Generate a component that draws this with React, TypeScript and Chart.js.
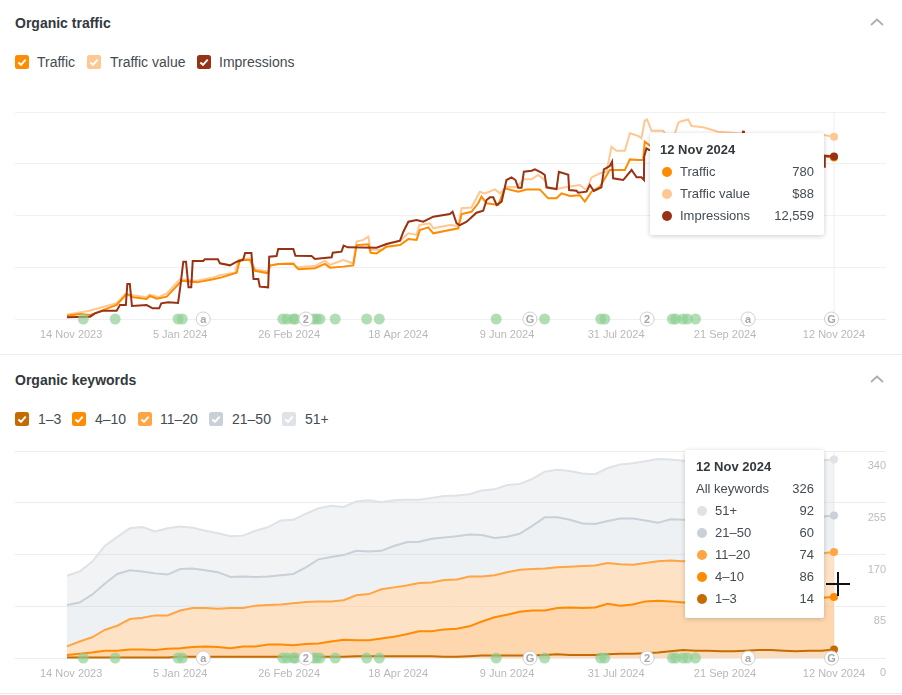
import React, { useEffect, useRef } from 'react';
import Chart from 'chart.js/auto';

// x values are days since 12 Nov 2023
const tickDays = [2, 54, 106, 158, 210, 262, 314, 366];
const tickLabels = ['14 Nov 2023', '5 Jan 2024', '26 Feb 2024', '18 Apr 2024', '9 Jun 2024', '31 Jul 2024', '21 Sep 2024', '12 Nov 2024'];

const updateDays = [7.8, 23, 53, 55, 103, 105, 108, 109, 117.5, 119, 120.7, 128, 143, 149, 204.8, 227.9, 254.7, 256.6, 288.9, 290.5, 294, 296, 299.9];
const flagDays = [65, 114, 220.9, 276.8, 325, 364.8];
const flagLetters = ['a', '2', 'G', '2', 'a', 'G'];

// [day, value]
const trafficSeries: [number, number][] = [
  [0, 16], [6.2, 24], [11, 19], [23.7, 68], [28.5, 121], [31.6, 105], [38, 97], [39.6, 111], [42.8, 98], [47.6, 108],
  [54.7, 185], [61.9, 177], [69.8, 192], [73.8, 201], [81, 224], [82.5, 285], [87.3, 285], [89.7, 233], [96, 221], [96.9, 258],
  [100.8, 266], [108, 266], [110.4, 240], [118.3, 245], [123.1, 266], [125.5, 248], [131.8, 253], [136.6, 259], [138.2, 357], [143.8, 361],
  [144.9, 320], [147.7, 317], [152.5, 349], [158.9, 357], [162.9, 386], [166.8, 382], [168.4, 430], [172.4, 443], [174.8, 414], [182.7, 430],
  [186.7, 438], [188.3, 507], [193, 518], [196.2, 559], [197.8, 591], [200.2, 559], [205.8, 551], [208.9, 631], [215.3, 615], [219.3, 626],
  [225.6, 626], [229.6, 583], [233.6, 583], [236, 607], [240, 594], [244.7, 598], [247.1, 567], [250.3, 615], [254.3, 639], [259, 720],
  [266.2, 720], [268.6, 771], [272.6, 768], [274.9, 768], [275.7, 857], [277.8, 840], [285, 820], [300, 850], [320, 830], [340, 800], [355, 790], [366, 780],
];

const trafficValueSeries: [number, number][] = [
  [0, 2.1], [10.2, 3.9], [23.7, 7.6], [27.7, 12.1], [38, 10.5], [39.3, 11.8], [43.6, 10.5], [47.6, 12.4], [53.9, 19.2], [61.9, 18.5],
  [69.8, 20.1], [73, 21.1], [80.2, 22.4], [81.7, 28.5], [87.3, 29.3], [89.7, 24], [96, 22.9], [96.5, 25.8], [101.6, 26.6], [108, 27.2],
  [109.6, 25], [118.3, 25.6], [123.1, 28.2], [125.5, 26.1], [131.8, 28.5], [136.6, 26.9], [138.2, 37.4], [141.4, 38.2], [143.8, 39.8], [144.9, 33.3],
  [150.9, 33.6], [152.5, 36.2], [158.9, 37.8], [162.9, 41.4], [166.8, 40.6], [168.1, 45.4], [173.2, 46.2], [174.8, 43.8], [182.7, 45.4], [186.7, 44.9],
  [188.3, 53.5], [193, 53.9], [197, 61.5], [199.4, 60.7], [204.2, 62.6], [206.6, 60.7], [209.7, 63.9], [214.5, 63.6], [218, 67.5], [221.7, 67.5],
  [224.8, 69.6], [228, 67.1], [229.6, 63.1], [233.6, 62.8], [239.2, 63.9], [244.7, 64.7], [247.9, 62.3], [250.3, 68.4], [254.3, 70.4], [257.5, 71.2],
  [259.8, 83.2], [262.2, 81.3], [266.2, 81.3], [268.6, 89.7], [272.6, 88.4], [274.1, 87.3], [275.7, 95.8], [276.8, 96.4], [278.9, 91], [284.5, 91],
  [286.9, 87.3], [289, 86], [291.6, 94.5], [292.4, 95.3], [296.4, 96.4], [298, 93.2], [303.6, 92.6], [310.7, 90.5], [330, 89], [350, 89], [361.1, 88.9], [366, 88],
];

const impressionsSeries: [number, number][] = [
  [0, 129], [11, 180], [13.4, 438], [17.3, 644], [23.7, 644], [25.3, 1082], [28.1, 1082], [28.8, 2705], [30, 2705], [31, 1005],
  [38, 1082], [40.9, 824], [44, 824], [45, 1211], [48.3, 1288], [53, 1236], [54, 2396], [55.5, 4431], [56.8, 4431], [58, 2447],
  [59.3, 2447], [60, 4482], [65, 4482], [65.8, 4611], [72, 4611], [73, 4302], [77.8, 4147], [81, 4431], [84, 4560], [85, 5100],
  [88, 5100], [89, 3091], [91.3, 3091], [92, 2499], [96, 2447], [96.5, 4817], [100, 4869], [100.8, 5410], [108, 5410], [109, 4894],
  [116.7, 4869], [118.3, 4637], [121.5, 4688], [126.3, 4766], [126.8, 5126], [131, 5204], [132, 5667], [134, 5538], [147.7, 5513], [152.5, 5796],
  [158.9, 6054], [160.5, 6749], [162.9, 7522], [166.8, 7651], [170, 7522], [174.8, 7908], [182.7, 8114], [184, 8295], [185.9, 7393], [187.5, 7264],
  [190.7, 7522], [195.4, 8217], [198.6, 8372], [200.2, 9196], [201.8, 9402], [203.4, 9402], [205, 8810], [207.4, 9068], [209.7, 10742], [212.1, 10948],
  [214, 10742], [215.3, 10150], [216.9, 10150], [218, 11386], [221.7, 11463], [223.3, 11566], [226.4, 11309], [228, 11128], [228.8, 10175], [233.6, 10046],
  [234.7, 11386], [239.2, 11154], [239.6, 9969], [243.1, 9918], [243.9, 9763], [247.9, 9840], [249.5, 10355], [251.4, 9892], [255, 10175], [256.2, 11566],
  [259, 11824], [260.1, 12159], [260.6, 10871], [265.4, 10742], [269.4, 11515], [271.8, 10948], [274.1, 10948], [275.3, 10742], [275.4, 12545], [276.5, 13189],
  [277.8, 13060], [285, 13100], [300, 13300], [315, 13400], [322, 13500], [322.6, 14554], [323, 13500], [340, 13200], [355, 12800], [361.4, 11772], [361.6, 12622], [366, 12559],
];

const keywordDays = [
  0, 6, 12, 18, 24, 30, 36, 42, 48, 54, 60, 66, 72, 78, 84, 90, 96, 102, 108, 114, 120, 126, 132, 138, 144, 150, 156, 162, 168, 174, 180,
  186, 192, 198, 204, 210, 216, 222, 228, 234, 240, 246, 252, 258, 264, 270, 276, 282, 288, 294, 300, 306, 312, 318, 324, 330, 336, 342, 348, 354, 360, 366,
];
const keywords1to3 = [
  1, 1, 1, 1, 1, 1, 1, 1, 1, 2, 2, 2, 2, 2, 2, 2, 2, 2, 2, 2, 2, 2, 2, 3, 3, 3, 3, 3, 3, 3, 2,
  2, 3, 4, 4, 4, 4, 4, 5, 6, 5, 5, 5, 6, 7, 7, 8, 9, 11, 13, 12, 12, 11, 11, 12, 13, 13, 12, 11, 12, 12, 14,
];
const keywords4to10 = [
  4, 6, 8, 11, 11, 13, 13, 12, 14, 14, 16, 17, 16, 14, 17, 17, 20, 20, 19, 21, 22, 25, 28, 26, 26, 29, 32, 36, 41, 41, 45,
  46, 49, 56, 63, 67, 72, 74, 73, 76, 78, 77, 78, 83, 79, 81, 85, 85, 82, 78, 79, 80, 81, 82, 82, 82, 82, 84, 86, 86, 87, 86,
];
const keywords11to20 = [
  14, 20, 25, 34, 41, 50, 52, 57, 55, 62, 64, 63, 63, 66, 63, 67, 65, 66, 69, 69, 69, 66, 65, 74, 76, 81, 81, 80, 79, 80, 81,
  81, 82, 74, 69, 70, 69, 68, 69, 67, 67, 69, 69, 67, 68, 65, 63, 65, 67, 68, 69, 69, 70, 70, 70, 70, 71, 72, 72, 73, 73, 74,
];
const keywords21to50 = [
  68, 64, 70, 76, 85, 80, 76, 69, 67, 68, 65, 62, 60, 51, 52, 47, 47, 48, 48, 57, 69, 73, 74, 73, 70, 63, 68, 71, 68, 72, 70,
  71, 69, 68, 61, 58, 59, 71, 84, 82, 77, 70, 68, 69, 75, 76, 70, 63, 68, 68, 67, 67, 66, 66, 65, 65, 64, 63, 62, 61, 60, 60,
];
const keywords51plus = [
  48, 51, 54, 62, 61, 69, 73, 69, 76, 70, 67, 65, 64, 67, 67, 76, 81, 90, 89, 88, 84, 84, 79, 81, 84, 80, 75, 70, 69, 67, 68,
  67, 66, 73, 80, 85, 82, 77, 75, 78, 80, 82, 82, 87, 89, 91, 97, 105, 98, 97, 97, 95, 95, 94, 94, 93, 94, 93, 93, 93, 93, 92,
];

const FONT = '"Liberation Sans", Arial, sans-serif';
const LAST_DAY = 366;
const X_MIN = -24.8;
const X_MAX = 390.8;

const COLORS = {
  traffic: '#ff8b00',
  trafficValue: '#ffc792',
  impressions: '#983214',
  k1: '#c46c00',
  k4: '#ff8b00',
  k11: '#ffa544',
  k21: '#c9d0d8',
  k51: '#dfe2e7',
};

const pairs = (series: [number, number][]) => series.map(([x, y]) => ({ x, y }));
const zip = (days: number[], values: number[]) => days.map((x, i) => ({ x, y: values[i] }));

// big dot on the hovered day only
const endDot = (ctx: any) => (ctx.dataIndex === ctx.dataset.data.length - 1 ? 4 : 0);

const lineDataset = (label: string, data: any[], color: string, yAxisID: string, extra: any = {}) => ({
  label,
  data,
  yAxisID,
  borderColor: color,
  backgroundColor: color,
  borderWidth: 2,
  tension: 0,
  pointRadius: endDot,
  pointBackgroundColor: color,
  pointBorderWidth: 0,
  clip: false,
  ...extra,
});

const eventDatasets = (yAxisID: string) => [
  {
    label: 'updates',
    data: updateDays.map((x) => ({ x, y: 0 })),
    yAxisID,
    showLine: false,
    pointRadius: 5.5,
    pointBackgroundColor: 'rgba(142, 207, 147, 0.68)',
    pointBorderWidth: 0,
    clip: false,
    order: -1,
  },
  {
    label: 'flags',
    data: flagDays.map((x) => ({ x, y: 0 })),
    yAxisID,
    showLine: false,
    pointRadius: 7,
    pointBackgroundColor: '#ffffff',
    pointBorderColor: '#cfcfcf',
    pointBorderWidth: 1,
    clip: false,
    order: -2,
  },
];

// hover line and the letters inside the flag circles
const decorations = {
  id: 'decorations',
  beforeDatasetsDraw(chart: any) {
    const { ctx, chartArea, scales } = chart;
    const x = scales.x.getPixelForValue(LAST_DAY);
    ctx.save();
    ctx.strokeStyle = '#eeeeee';
    ctx.lineWidth = 1;
    ctx.beginPath();
    ctx.moveTo(x, chartArea.top);
    ctx.lineTo(x, chartArea.bottom);
    ctx.stroke();
    ctx.restore();
  },
  afterDatasetsDraw(chart: any) {
    const { ctx } = chart;
    const index = chart.data.datasets.findIndex((d: any) => d.label === 'flags');
    const meta = chart.getDatasetMeta(index);
    ctx.save();
    ctx.fillStyle = '#a8a8a8';
    ctx.font = `bold 11px ${FONT}`;
    ctx.textAlign = 'center';
    ctx.textBaseline = 'middle';
    meta.data.forEach((pt: any, i: number) => ctx.fillText(flagLetters[i], pt.x, pt.y + 0.5));
    ctx.restore();
  },
};

const xAxis = {
  type: 'linear',
  min: X_MIN,
  max: X_MAX,
  afterBuildTicks: (scale: any) => {
    scale.ticks = tickDays.map((value) => ({ value }));
  },
  afterFit: (scale: any) => {
    scale.height = 30;
  },
  grid: { display: false },
  border: { display: false },
  ticks: {
    autoSkip: false,
    maxRotation: 0,
    padding: 1,
    color: '#b8b8b8',
    font: { family: FONT, size: 11 },
    callback: (value: number) => tickLabels[tickDays.indexOf(value)],
  },
};

const hiddenAxis = (max: number) => ({ display: false, min: 0, max });

const baseOptions = {
  responsive: false,
  animation: false,
  events: [],
  layout: { padding: 0, autoPadding: false },
  plugins: { legend: { display: false }, tooltip: { enabled: false } },
};

const TrafficChart: React.FC = () => {
  const canvasRef = useRef<HTMLCanvasElement>(null);
  useEffect(() => {
    if (!canvasRef.current) return;
    const chart = new Chart(canvasRef.current, {
      type: 'line',
      data: {
        datasets: [
          lineDataset('Impressions', pairs(impressionsSeries), COLORS.impressions, 'yImpressions'),
          lineDataset('Traffic', pairs(trafficSeries), COLORS.traffic, 'yTraffic'),
          lineDataset('Traffic value', pairs(trafficValueSeries), COLORS.trafficValue, 'yValue'),
          ...eventDatasets('yTraffic'),
        ],
      },
      options: {
        ...baseOptions,
        scales: {
          x: xAxis,
          yTraffic: {
            min: 0,
            max: 1000,
            afterFit: (scale: any) => {
              scale.width = 0;
            },
            border: { display: false },
            grid: { color: '#f0f0f0', drawTicks: false },
            ticks: { display: false, stepSize: 250 },
          },
          yValue: hiddenAxis(100),
          yImpressions: hiddenAxis(16000),
        },
      },
      plugins: [decorations],
    } as any);
    return () => chart.destroy();
  }, []);
  return <canvas ref={canvasRef} width={871} height={237} style={{ position: 'absolute', left: 15, top: 112 }} />;
};

const KeywordsChart: React.FC = () => {
  const canvasRef = useRef<HTMLCanvasElement>(null);
  useEffect(() => {
    if (!canvasRef.current) return;
    const chart = new Chart(canvasRef.current, {
      type: 'line',
      data: {
        datasets: [
          lineDataset('1–3', zip(keywordDays, keywords1to3), COLORS.k1, 'y', { fill: 'origin', backgroundColor: 'rgba(240, 170, 100, 0.4)' }),
          lineDataset('4–10', zip(keywordDays, keywords4to10), COLORS.k4, 'y', { fill: '-1', backgroundColor: 'rgba(253, 190, 125, 0.62)' }),
          lineDataset('11–20', zip(keywordDays, keywords11to20), COLORS.k11, 'y', { fill: '-1', backgroundColor: 'rgba(253, 205, 155, 0.58)' }),
          lineDataset('21–50', zip(keywordDays, keywords21to50), COLORS.k21, 'y', { fill: '-1', backgroundColor: 'rgba(205, 215, 225, 0.36)' }),
          lineDataset('51+', zip(keywordDays, keywords51plus), COLORS.k51, 'y', { fill: '-1', backgroundColor: 'rgba(215, 222, 228, 0.36)' }),
          ...eventDatasets('yEvents'),
        ],
      },
      options: {
        ...baseOptions,
        scales: {
          x: xAxis,
          y: {
            position: 'right',
            stacked: true,
            min: 0,
            max: 340,
            afterFit: (scale: any) => {
              scale.paddingTop = 0;
              scale.paddingBottom = 0;
            },
            border: { display: false },
            grid: { color: '#ececec', drawTicks: false },
            ticks: {
              stepSize: 85,
              mirror: true,
              padding: 0,
              labelOffset: 15,
              color: '#bcbcbc',
              font: { family: FONT, size: 11 },
            },
          },
          yEvents: hiddenAxis(1),
        },
      },
      plugins: [decorations],
    } as any);
    return () => chart.destroy();
  }, []);
  return <canvas ref={canvasRef} width={871} height={237} style={{ position: 'absolute', left: 15, top: 451 }} />;
};

const Check: React.FC<{ x: number; y: number; color: string }> = ({ x, y, color }) => (
  <svg width={14} height={14} style={{ position: 'absolute', left: x, top: y }}>
    <rect width={14} height={14} rx={2.5} fill={color} />
    <polyline points="3.4,7.4 6,9.8 10.7,4.6" fill="none" stroke="#fff" strokeWidth={2} />
  </svg>
);

const Text: React.FC<{ x: number; y: number; size?: number; bold?: boolean; color?: string; right?: boolean; children: React.ReactNode }> = ({
  x,
  y,
  size = 14,
  bold,
  color = '#444b52',
  right,
  children,
}) => (
  <div
    style={{
      position: 'absolute',
      [right ? 'right' : 'left']: right ? 902 - x : x,
      top: y - 10,
      height: 20,
      lineHeight: '20px',
      fontFamily: FONT,
      fontSize: size,
      fontWeight: bold ? 700 : 400,
      color,
      whiteSpace: 'nowrap',
    }}
  >
    {children}
  </div>
);

const Chevron: React.FC<{ y: number }> = ({ y }) => (
  <svg width={14} height={8} style={{ position: 'absolute', left: 870, top: y }}>
    <polyline points="1,7 7,1.5 13,7" fill="none" stroke="#a9aeb3" strokeWidth={1.7} />
  </svg>
);

const Dot: React.FC<{ x: number; y: number; color: string }> = ({ x, y, color }) => (
  <div style={{ position: 'absolute', left: x - 5, top: y - 5, width: 10, height: 10, borderRadius: 5, background: color }} />
);

const Box: React.FC<{ left: number; top: number; width: number; height: number }> = (p) => (
  <div
    style={{
      position: 'absolute',
      ...p,
      background: '#fff',
      borderRadius: 2,
      boxShadow: '0 1px 5px rgba(0, 0, 0, 0.2)',
    }}
  />
);

const App: React.FC = () => (
  <div style={{ position: 'absolute', left: 0, top: 0, width: 902, height: 695, background: '#fff', overflow: 'hidden' }}>
    <Text x={15} y={23} bold color="#33383d">Organic traffic</Text>
    <Chevron y={18} />
    <Check x={15} y={55} color={COLORS.traffic} />
    <Text x={37} y={62}>Traffic</Text>
    <Check x={87} y={55} color={COLORS.trafficValue} />
    <Text x={110} y={62}>Traffic value</Text>
    <Check x={197} y={55} color={COLORS.impressions} />
    <Text x={219} y={62}>Impressions</Text>
    <TrafficChart />
    <div style={{ position: 'absolute', left: 0, top: 354, width: 902, height: 1, background: '#ececec' }} />

    <Box left={650} top={133} width={174} height={102} />
    <Text x={660} y={150} size={13} bold color="#33383d">12 Nov 2024</Text>
    <Dot x={667} y={172} color={COLORS.traffic} />
    <Text x={680} y={172} size={13}>Traffic</Text>
    <Text x={814} y={172} size={13} right>780</Text>
    <Dot x={667} y={194} color={COLORS.trafficValue} />
    <Text x={680} y={194} size={13}>Traffic value</Text>
    <Text x={814} y={194} size={13} right>$88</Text>
    <Dot x={667} y={216} color={COLORS.impressions} />
    <Text x={680} y={216} size={13}>Impressions</Text>
    <Text x={814} y={216} size={13} right>12,559</Text>

    <Text x={15} y={380} bold color="#33383d">Organic keywords</Text>
    <Chevron y={375} />
    <Check x={15} y={412} color={COLORS.k1} />
    <Text x={38} y={419}>1–3</Text>
    <Check x={72} y={412} color={COLORS.k4} />
    <Text x={95} y={419}>4–10</Text>
    <Check x={138} y={412} color={COLORS.k11} />
    <Text x={160} y={419}>11–20</Text>
    <Check x={209} y={412} color={COLORS.k21} />
    <Text x={232} y={419}>21–50</Text>
    <Check x={282} y={412} color={COLORS.k51} />
    <Text x={305} y={419}>51+</Text>
    <KeywordsChart />
    <div style={{ position: 'absolute', left: 0, top: 693, width: 902, height: 1, background: '#ececec' }} />

    <Box left={685} top={450} width={139} height={168} />
    <Text x={696} y={467} size={13} bold color="#33383d">12 Nov 2024</Text>
    <Text x={696} y={489} size={13}>All keywords</Text>
    <Text x={814} y={489} size={13} right>326</Text>
    <Dot x={702} y={511} color={COLORS.k51} />
    <Text x={715} y={511} size={13}>51+</Text>
    <Text x={814} y={511} size={13} right>92</Text>
    <Dot x={702} y={533} color={COLORS.k21} />
    <Text x={715} y={533} size={13}>21–50</Text>
    <Text x={814} y={533} size={13} right>60</Text>
    <Dot x={702} y={555} color={COLORS.k11} />
    <Text x={715} y={555} size={13}>11–20</Text>
    <Text x={814} y={555} size={13} right>74</Text>
    <Dot x={702} y={577} color={COLORS.k4} />
    <Text x={715} y={577} size={13}>4–10</Text>
    <Text x={814} y={577} size={13} right>86</Text>
    <Dot x={702} y={599} color={COLORS.k1} />
    <Text x={715} y={599} size={13}>1–3</Text>
    <Text x={814} y={599} size={13} right>14</Text>

    {/* mouse cursor */}
    <div style={{ position: 'absolute', left: 826, top: 583, width: 24, height: 2, background: '#111' }} />
    <div style={{ position: 'absolute', left: 837, top: 572, width: 2, height: 24, background: '#111' }} />
  </div>
);

export default App;
